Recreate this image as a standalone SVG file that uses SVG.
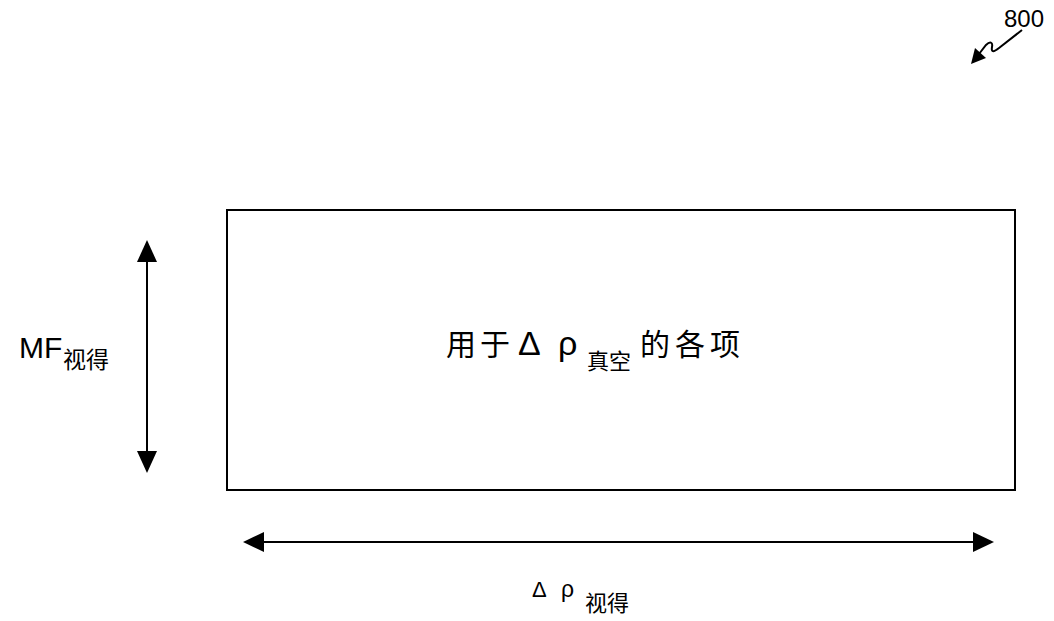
<svg xmlns="http://www.w3.org/2000/svg" width="1054" height="621" viewBox="0 0 1054 621">
<style>
.t{font-family:"Liberation Sans","Noto Sans CJK SC",sans-serif;fill:#000}
.c{font-family:"Noto Sans CJK SC",sans-serif;fill:#000}
.ln{stroke:#000;stroke-width:2;fill:none}
</style>
<rect width="1054" height="621" fill="#fff"/>
<g id="ref800">
<text class="t" x="1004" y="27" font-size="24">800</text>
<path class="ln" d="M1022,30 L999,48 C994,52 991,53 992,47 C993,42 990,41 986,45 L979,54" stroke-width="1.8"/>
<path d="M971,64 L975,48 L986,58 Z" fill="#000"/>
</g>
<g id="box">
<rect x="227" y="210" width="788" height="280" fill="none" stroke="#000" stroke-width="2"/>
<text class="c" x="446" y="355" font-size="30">用</text>
<text class="c" x="480" y="355" font-size="30">于</text>
<text class="t" x="518" y="355" font-size="34">Δ</text>
<text class="t" x="558" y="355" font-size="34">ρ</text>
<text class="c" x="587" y="369" font-size="22">真空</text>
<text class="c" x="640" y="355" font-size="30">的</text>
<text class="c" x="675" y="355" font-size="30">各</text>
<text class="c" x="710" y="355" font-size="30">项</text>
</g>
<g id="label-mf">
<text class="t" x="19" y="358" font-size="30">MF</text>
<text class="c" x="63" y="368" font-size="23">视得</text>
</g>
<g id="label-drho">
<text class="t" x="532" y="597" font-size="22">Δ</text>
<text class="t" x="561" y="597" font-size="23">ρ</text>
<text class="c" x="585" y="611" font-size="22">视得</text>
</g>
<g id="connectors">
<line class="ln" x1="147" y1="262" x2="147" y2="451"/>
<path d="M147,240 L137,262 L157,262 Z" fill="#000"/>
<path d="M147,473 L137,451 L157,451 Z" fill="#000"/>
<line class="ln" x1="263" y1="542" x2="973" y2="542"/>
<path d="M243,542 L264,532 L264,552 Z" fill="#000"/>
<path d="M994,542 L973,532 L973,552 Z" fill="#000"/>
</g>
</svg>
